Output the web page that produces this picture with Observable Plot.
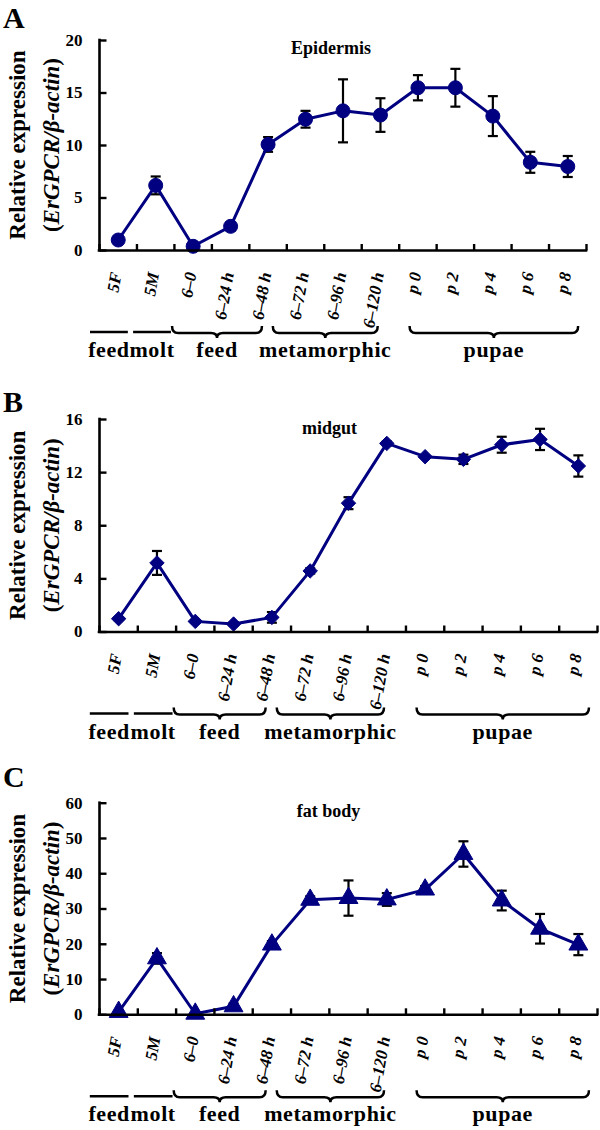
<!DOCTYPE html>
<html><head><meta charset="utf-8">
<script src="https://cdn.jsdelivr.net/npm/d3@7"></script>
<script src="https://cdn.jsdelivr.net/npm/@observablehq/plot@0.6"></script>
<style>
body{margin:0;background:#fff;}
#wrap{width:600px;}
#wrap svg{display:block;}
</style></head><body><div id="wrap"></div>
<script>
// ---- data ----
const categories = ["5F","5M","6–0","6–24 h","6–48 h","6–72 h","6–96 h","6–120 h","p 0","p 2","p 4","p 6","p 8"];

const epidermisMean = [1.0, 6.2, 0.4, 2.3, 10.1, 12.5, 13.3, 12.9, 15.5, 15.5, 12.8, 8.4, 8.0];
const epidermisErr  = [0.1, 0.85, 0.1, 0.4, 0.7, 0.8, 3.0, 1.6, 1.2, 1.8, 1.9, 1.0, 1.0];

const midgutMean = [1.0, 5.2, 0.8, 0.6, 1.1, 4.6, 9.7, 14.2, 13.2, 13.0, 14.1, 14.5, 12.5];
const midgutErr  = [0.1, 0.9, 0.1, 0.1, 0.4, 0.2, 0.45, 0.15, 0.1, 0.35, 0.6, 0.8, 0.8];

const fatBodyMean = [0.8, 16.0, 0.3, 2.4, 19.9, 32.6, 33.1, 32.7, 35.5, 45.6, 32.4, 24.4, 19.9];
const fatBodyErr  = [0.3, 1.5, 0.2, 0.8, 1.0, 1.0, 5.0, 1.8, 1.0, 3.6, 2.8, 4.2, 3.0];

const yTicksA = [0, 5, 10, 15, 20];
const yTicksB = [0, 4, 8, 12, 16];
const yTicksC = [0, 10, 20, 30, 40, 50, 60];

const groupLabels = ["feed", "molt", "feed", "metamorphic", "pupae"];
const groupFirst  = ["5F", "5M", "6–0", "6–72 h", "p 0"];
const groupLast   = ["5F", "5M", "6–48 h", "6–120 h", "p 8"];
const groupKinds  = ["line", "line", "brace", "brace", "brace"];

// ---- styling ----
const FONT = "'Liberation Serif', 'Times New Roman', serif";
const NAVY = "#000080";
const bracketTrim = [[-0.24, -0.23], [-0.09, -0.08], [-0.05, -0.65], [-0.36, -0.56], [0.29, -0.21]];

const capSym = {draw(ctx, size){const w = Math.sqrt(size/Math.PI); ctx.moveTo(-w,0); ctx.lineTo(w,0);}};
const upTick = {draw(ctx, size){const w = Math.sqrt(size/Math.PI); ctx.moveTo(0,0); ctx.lineTo(0,-w);}};
const rightTick = {draw(ctx, size){const w = Math.sqrt(size/Math.PI); ctx.moveTo(0,0); ctx.lineTo(w,0);}};

function bracePath(x1, x2, y0) {
  const ym = y0 + 7, tip = y0 + 12, cx = (x1 + x2) / 2, r = 6;
  return `M${x1},${y0}Q${x1},${ym} ${x1+r},${ym}L${cx-r},${ym}Q${cx},${ym} ${cx},${tip}Q${cx},${ym} ${cx+r},${ym}L${x2-r},${ym}Q${x2},${ym} ${x2},${y0}`;
}

function panel(o) {
  const rows = categories.map((c, i) => ({
    cat: c, xi: i + 0.5, v: o.means[i],
    lo: Math.max(0, o.means[i] - o.errs[i]), hi: o.means[i] + o.errs[i]
  }));
  const bounds = d3.range(categories.length + 1);
  const plot = Plot.plot({
    width: 600, height: o.height,
    marginTop: o.marginTop, marginBottom: o.marginBottom, marginLeft: 99, marginRight: o.marginRight,
    x: {domain: [0, categories.length], axis: null},
    y: {domain: [0, o.yMax], axis: null},
    style: {fontFamily: FONT, background: "white", color: "black", overflow: "visible"},
    marks: [
      Plot.ruleX(rows, {x: "xi", y1: "lo", y2: "hi", stroke: "black", strokeWidth: 2.2}),
      Plot.dot(rows, {x: "xi", y: "hi", symbol: capSym, r: 5, stroke: "black", fill: "none", strokeWidth: 2.2}),
      Plot.dot(rows, {x: "xi", y: "lo", symbol: capSym, r: 5, stroke: "black", fill: "none", strokeWidth: 2.2}),
      Plot.line(rows, {x: "xi", y: "v", stroke: NAVY, strokeWidth: 3}),
      Plot.dot(rows, {x: "xi", y: "v", symbol: o.symbol, r: o.r, fill: NAVY, stroke: NAVY, strokeWidth: 1}),
      Plot.ruleY([0], {stroke: "black", strokeWidth: 2.6, strokeLinecap: "square"}),
      Plot.ruleX([0], {stroke: "black", strokeWidth: 2.6, strokeLinecap: "square"}),
      Plot.dot(bounds, {x: d => d, frameAnchor: "bottom", symbol: upTick, r: 6.5, stroke: "black", fill: "none", strokeWidth: 2.4}),
      Plot.dot(o.yTicks, {y: d => d, frameAnchor: "left", symbol: rightTick, r: 7, stroke: "black", fill: "none", strokeWidth: 2.4}),
      Plot.text(o.yTicks, {y: d => d, text: d => String(d), frameAnchor: "left", textAnchor: "end", lineAnchor: "middle", dx: -17, fontSize: 17, fontWeight: "bold"}),
      Plot.text(rows, {x: "xi", text: "cat", frameAnchor: "bottom", textAnchor: "end", lineAnchor: "middle", rotate: -80, dx: -2, dy: 22, fontSize: 17, fontWeight: "bold", fontStyle: "italic"}),
      Plot.text([o.title], {text: d => d, frameAnchor: "top", lineAnchor: "middle", dx: o.titleDx, dy: o.titleDy, fontSize: 18, fontWeight: "bold"})
    ]
  });

  const svg = d3.select(plot);
  const xs = plot.scale("x");
  const step = xs.apply(1) - xs.apply(0);
  const frameBottom = o.height - o.marginBottom;
  const frameMid = (o.marginTop + frameBottom) / 2;

  // group brackets and labels
  groupLabels.forEach((lab, g) => {
    const i0 = categories.indexOf(groupFirst[g]);
    const i1 = categories.indexOf(groupLast[g]);
    const x1 = xs.apply(i0) + bracketTrim[g][0] * step;
    const x2 = xs.apply(i1 + 1) + bracketTrim[g][1] * step;
    if (groupKinds[g] === "line") {
      svg.append("line").attr("x1", x1).attr("x2", x2)
        .attr("y1", frameBottom + 82).attr("y2", frameBottom + 82)
        .attr("stroke", "black").attr("stroke-width", 2.5);
    } else {
      svg.append("path").attr("d", bracePath(x1, x2, frameBottom + 76))
        .attr("fill", "none").attr("stroke", "black").attr("stroke-width", 2.5);
    }
    svg.append("text").attr("x", (x1 + x2) / 2).attr("y", frameBottom + 107)
      .attr("text-anchor", "middle").attr("font-size", 22).attr("font-weight", "bold")
      .attr("letter-spacing", 0.6).attr("font-family", FONT).text(lab);
  });

  // y-axis title (two lines)
  svg.append("text").attr("transform", `translate(17,${frameMid}) rotate(-90)`)
    .attr("text-anchor", "middle").attr("dominant-baseline", "central")
    .attr("font-size", 23).attr("font-weight", "bold").attr("font-family", FONT)
    .text("Relative expression");
  const t2 = svg.append("text").attr("transform", `translate(51,${frameMid}) rotate(-90)`)
    .attr("text-anchor", "middle").attr("dominant-baseline", "central")
    .attr("font-size", 23).attr("font-weight", "bold").attr("font-family", FONT);
  t2.append("tspan").text("(");
  t2.append("tspan").attr("font-style", "italic").text("ErGPCR/β-actin");
  t2.append("tspan").text(")");

  // panel letter
  svg.append("text").attr("x", 3).attr("y", o.letterY)
    .attr("text-anchor", "start")
    .attr("font-size", 30).attr("font-weight", "bold").attr("font-family", FONT)
    .text(o.letter);

  return plot;
}

const wrap = document.getElementById("wrap");
wrap.appendChild(panel({
  letter: "A", title: "Epidermis", means: epidermisMean, errs: epidermisErr,
  yMax: 20, yTicks: yTicksA, symbol: "circle", r: 7,
  height: 365, marginTop: 40, marginBottom: 115, marginRight: 14,
  titleDx: -12, titleDy: 8, letterY: 28
}));
wrap.appendChild(panel({
  letter: "B", title: "midgut", means: midgutMean, errs: midgutErr,
  yMax: 16, yTicks: yTicksB, symbol: "diamond2", r: 6.5,
  height: 380, marginTop: 54, marginBottom: 113.5, marginRight: 3,
  titleDx: -19, titleDy: 9, letterY: 47
}));
wrap.appendChild(panel({
  letter: "C", title: "fat body", means: fatBodyMean, errs: fatBodyErr,
  yMax: 60, yTicks: yTicksC, symbol: "triangle", r: 7,
  height: 385, marginTop: 57.7, marginBottom: 115.7, marginRight: 3,
  titleDx: -20, titleDy: 8, letterY: 42
}));
</script>
</body></html>
